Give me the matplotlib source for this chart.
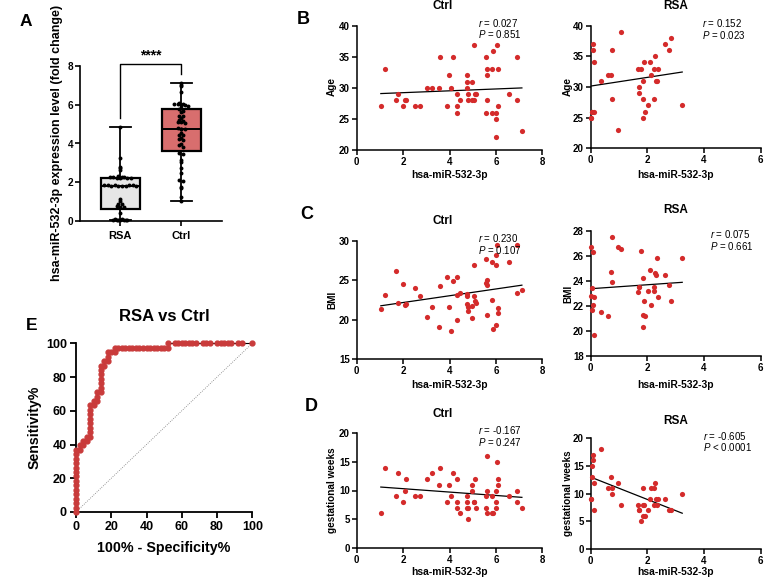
import numpy as np
import matplotlib
matplotlib.use("Agg")
import matplotlib.pyplot as plt

plt.rcParams['font.family'] = ['Liberation Sans', 'DejaVu Sans']
plt.rcParams['font.weight'] = 'bold'
plt.rcParams['mathtext.fontset'] = 'custom'
plt.rcParams['mathtext.it'] = 'Liberation Sans:italic:normal'
plt.rcParams['mathtext.rm'] = 'Liberation Sans:normal'
plt.rcParams['mathtext.bf'] = 'Liberation Sans:bold'

RED = '#d42b2b'
ROC_RED = '#c93b3b'

# ---- A: expression level (fold change)
a_rsa = [4.83, 3.23, 2.80, 2.75, 2.62, 2.30, 2.27, 2.25, 2.24, 2.22, 2.26, 2.23, 2.28, 2.21,
         1.86, 1.84, 1.83, 1.85, 1.80, 1.82, 1.81, 1.86, 1.84, 1.79, 1.12, 1.05, 0.90, 0.88,
         0.79, 0.74, 0.74, 0.40, 0.08, 0.06, 0.07, 0.05, 0.06, 0.08, 0.05, 0.07, 0.04]
a_ctrl = [7.14, 7.02, 6.95, 6.65, 6.08, 6.05, 6.04, 6.02, 6.00, 5.99, 5.92, 5.84, 5.78, 5.66,
          5.64, 5.44, 5.40, 5.34, 5.22, 5.16, 5.13, 5.10, 5.06, 4.78, 4.76, 4.75, 4.73, 4.53,
          4.45, 4.42, 4.27, 4.21, 4.16, 3.98, 3.92, 3.84, 3.50, 3.47, 3.15, 3.05, 2.72, 2.46,
          2.12, 2.08, 1.77, 1.72, 1.26, 1.03]
groups = ['RSA', 'Ctrl']
# whisker low, Q1, median, Q3, whisker high
box_rsa = [0.04, 0.60, 1.82, 2.24, 4.84]
box_ctrl = [1.03, 3.61, 4.76, 5.78, 7.14]

# ---- B-D: correlations with hsa-miR-532-3p
ctrl_x = [1.04, 1.21, 1.70, 1.79, 2.00, 2.07, 2.14, 2.50, 2.74, 3.04,
          3.23, 3.54, 3.59, 3.90, 3.96, 4.07, 4.16, 4.31, 4.33, 4.34,
          4.47, 4.74, 4.76, 4.77, 4.79, 4.79, 4.95, 4.97, 5.06, 5.07,
          5.10, 5.13, 5.56, 5.57, 5.60, 5.60, 5.61, 5.83, 5.84, 5.86,
          6.00, 6.01, 6.02, 6.03, 6.10, 6.11, 6.56, 6.91, 6.93, 7.12]
ctrl_age = [27, 33, 28, 29, 27, 28, 28, 27, 27, 30,
            30, 30, 35, 27, 32, 30, 35, 29, 27, 26,
            28, 32, 31, 30, 29, 28, 28, 31, 28, 37,
            29, 29, 35, 26, 33, 28, 32, 26, 33, 36,
            26, 25, 22, 37, 33, 27, 29, 35, 28, 23]
ctrl_bmi = [21.3, 23.15, 26.1, 22.05, 24.5, 21.8, 21.95, 23.95, 23.0, 20.3,
            21.6, 19.0, 24.25, 25.4, 21.65, 18.5, 24.95, 25.45, 23.1, 19.9,
            23.4, 23.2, 23.0, 22.0, 21.65, 21.05, 21.75, 20.2, 23.0, 26.9,
            22.35, 22.15, 27.65, 24.65, 25.0, 24.35, 20.6, 22.5, 27.3, 18.75,
            28.2, 26.9, 19.25, 29.45, 21.45, 20.8, 27.25, 29.4, 23.35, 23.7]
ctrl_gw = [6, 14, 9, 13, 8, 10, 12, 9, 9, 12,
           13, 11, 14, 8, 11, 9, 13, 8, 7, 12,
           6, 9, 8, 7, 7, 5, 11, 10, 8, 8,
           12, 7, 9, 7, 16, 10, 6, 6, 9, 6,
           8, 7, 10, 15, 12, 11, 9, 10, 8, 7]

rsa_x = [0.01, 0.02, 0.04, 0.05, 0.08, 0.09, 0.11, 0.12, 0.35, 0.61,
         0.70, 0.74, 0.76, 0.97, 1.08, 1.67, 1.69, 1.72, 1.76, 1.84,
         1.85, 1.86, 1.89, 1.91, 2.03, 2.08, 2.12, 2.23, 2.25, 2.28,
         2.30, 2.35, 2.36, 2.62, 2.75, 2.82, 3.23]
rsa_age = [25, 25, 26, 26, 37, 36, 34, 26, 31, 32,
           32, 36, 28, 23, 39, 33, 29, 30, 33, 31,
           28, 25, 34, 26, 27, 34, 32, 28, 33, 35,
           31, 31, 33, 37, 36, 38, 27]
rsa_bmi = [26.7, 22.8, 21.7, 23.4, 22.1, 26.3, 22.7, 19.65, 21.5, 21.2,
           24.7, 27.5, 23.9, 26.7, 26.5, 23.1, 23.5, 23.5, 26.4, 24.2,
           21.3, 20.3, 22.4, 21.2, 23.2, 24.9, 22.1, 23.5, 23.2, 24.6,
           24.5, 25.8, 22.7, 24.5, 23.7, 22.4, 25.8]
rsa_gw = [9, 9, 15, 13, 17, 16, 12, 7, 18, 11,
          13, 11, 10, 12, 8, 8, 7, 7, 5, 8,
          11, 6, 8, 6, 7, 9, 11, 11, 8, 12,
          9, 8, 9, 9, 7, 7, 10]

# regression lines (intercept, slope) and stats text
fit_age = [(28.92, 0.15), (30.15, 0.71)]
fit_bmi = [(21.30, 0.43), (23.37, 0.158)]
fit_gw = [(10.91, -0.296), (12.99, -2.02)]
r_age = [('0.027', '= 0.851'), ('0.152', '= 0.023')]
r_bmi = [('0.230', '= 0.107'), ('0.075', '= 0.661')]
r_gw = [('-0.167', '= 0.247'), ('-0.605', '< 0.0001')]

# ---- E: ROC curve
roc_fpr = ([0] * 15 + [2, 2, 4, 4, 6, 6] + [8] * 8 + [10, 10, 12, 12, 12] + [14] * 7 +
           [16, 16, 18, 18, 18, 20, 22, 22] +
           [24, 26, 28, 30, 32, 34, 36, 38, 40, 42, 44, 46, 48, 50, 52] +
           [52, 56, 58, 60, 62, 64, 66, 68, 72, 74, 76, 80, 82, 84, 86, 88, 92, 94, 100])
roc_tpr = ([0, 2.6, 5.3, 7.9, 10.5, 13.2, 15.8, 18.4, 21.1, 23.7, 26.3, 28.9, 31.6, 34.2, 36.8,
            36.8, 39.5, 39.5, 42.1, 42.1, 44.7,
            44.7, 47.4, 50.0, 52.6, 55.3, 57.9, 60.5, 63.2,
            63.2, 65.8, 65.8, 68.4, 71.1,
            71.1, 73.7, 76.3, 78.9, 81.6, 84.2, 86.8,
            86.8, 89.5, 89.5, 92.1, 94.7, 94.7, 94.7, 97.4] +
           [97.4] * 15 + [100] * 19)

W, H = 764, 579
fig = plt.figure(figsize=(W / 100, H / 100), dpi=100)


def add_ax(l, t, r, b):
    return fig.add_axes([l / W, 1 - b / H, (r - l) / W, (b - t) / H])


def ftext(x, y, s, **kw):
    fig.text(x / W, 1 - y / H, s, **kw)


def style(ax, lw=1.1, size=7, tl=3.5, pad=1.5):
    for s in ['top', 'right']:
        ax.spines[s].set_visible(False)
    for s in ['left', 'bottom']:
        ax.spines[s].set_linewidth(lw)
    ax.tick_params(direction='out', length=tl, width=lw, labelsize=size, pad=pad)


def swarm(vals, center, row=0.13, step=0.058):
    vals = np.asarray(vals)
    xs = np.zeros(len(vals))
    rows = np.round(vals / row)
    for r in np.unique(rows):
        idx = np.where(rows == r)[0]
        n = len(idx)
        xs[idx] = center + (np.arange(n) - (n - 1) / 2) * step
    return xs


# ---------------- panel A
axA = add_ax(80, 66, 222, 221)
stats = []
for name, b in zip(groups, [box_rsa, box_ctrl]):
    stats.append(dict(label=name, whislo=b[0], q1=b[1], med=b[2], q3=b[3], whishi=b[4]))
bp = axA.bxp(stats, positions=[1, 2], widths=0.64, capwidths=0.34, showfliers=False,
             patch_artist=True,
             boxprops=dict(linewidth=1.6, edgecolor='black'),
             medianprops=dict(linewidth=1.4, color='black'),
             whiskerprops=dict(linewidth=1.3, color='black'),
             capprops=dict(linewidth=1.3, color='black'))
for patch, fc in zip(bp['boxes'], ['#e6e6e6', '#d86e6e']):
    patch.set_facecolor(fc)
for pos, vals in zip([1, 2], [a_rsa, a_ctrl]):
    axA.scatter(swarm(vals, pos), vals, s=8, color='black', zorder=4, clip_on=False, linewidths=0)
axA.plot([1, 1, 2, 2], [5.3, 8.08, 8.08, 7.6], color='black', lw=1.0, clip_on=False)
axA.text(1.5, 8.55, '****', ha='center', va='center', fontsize=10, fontweight='bold')
axA.set_xlim(0.34, 2.67)
axA.set_ylim(0, 8)
axA.set_yticks([0, 2, 4, 6, 8])
axA.set_xticks([1, 2])
axA.set_xticklabels(groups)
style(axA, lw=1.2, size=7.2)
axA.tick_params(axis='x', labelsize=8, pad=4)
ftext(57.5, 143, 'hsa-miR-532-3p expression level (fold change)', rotation=90,
      ha='center', va='center', fontsize=9)
ftext(26, 22, 'A', ha='center', va='center', fontsize=12.5)

# ---------------- panels B-D
col_px = [(356.7, 542.3), (590.7, 760.7)]
rows = [
    dict(letter='B', lpos=(303, 20), ylab='Age', tb=[(26, 149.7), (25.7, 148.3)],
         ylim=(20, 40), yt=[20, 25, 30, 35, 40], ys=[ctrl_age, rsa_age], fits=fit_age,
         rp=r_age, title_y=[6, 6], xlab_y=175, ylab_y=[87, 86],
         rtext_y=[(23, 34.5), (23.3, 34.8)], rtext_x=[478.3, 702.3]),
    dict(letter='C', lpos=(307, 214), ylab='BMI', tb=[(240.7, 359), (230.7, 356)],
         ylim=None, yt=None, ys=[ctrl_bmi, rsa_bmi], fits=fit_bmi,
         rp=r_bmi, title_y=[221, 210], xlab_y=385, ylab_y=[300, 294],
         rtext_y=[(238, 250), (234, 246)], rtext_x=[478.3, 710]),
    dict(letter='D', lpos=(311.7, 406.7), ylab='gestational weeks', tb=[(433.3, 547.7), (438.3, 549)],
         ylim=(0, 20), yt=[0, 5, 10, 15, 20], ys=[ctrl_gw, rsa_gw], fits=fit_gw,
         rp=r_gw, title_y=[414, 421], xlab_y=572, ylab_y=[490, 493],
         rtext_y=[(430, 441.5), (435.5, 447)], rtext_x=[478.3, 702.7]),
]
bmi_lims = [((15, 30), [15, 20, 25, 30]), ((18, 28), [18, 20, 22, 24, 26, 28])]
xs_all = [ctrl_x, rsa_x]
xlims = [(0, 8, [0, 2, 4, 6, 8]), (0, 6, [0, 2, 4, 6])]
titles = ['Ctrl', 'RSA']
title_x = [443, 676]
ylab_x = [332, 568]

for row in rows:
    for j in range(2):
        l, r = col_px[j]
        t, b = row['tb'][j]
        ax = add_ax(l, t, r, b)
        x = np.array(xs_all[j])
        y = np.array(row['ys'][j])
        ax.scatter(x, y, s=14, color=RED, linewidths=0, zorder=3, clip_on=False)
        fx = np.array([x.min(), x.max()])
        a0, a1 = row['fits'][j]
        ax.plot(fx, a0 + a1 * fx, color='black', lw=0.9, zorder=2)
        ax.set_xlim(xlims[j][0], xlims[j][1])
        ax.set_xticks(xlims[j][2])
        if row['ylim'] is None:
            ylim, yt = bmi_lims[j]
        else:
            ylim, yt = row['ylim'], row['yt']
        ax.set_ylim(*ylim)
        ax.set_yticks(yt)
        style(ax)
        ftext(title_x[j], row['title_y'][j], titles[j], ha='center', va='center', fontsize=8.5)
        ftext((l + r) / 2, row['xlab_y'], 'hsa-miR-532-3p', ha='center', va='center', fontsize=7.4)
        ftext(ylab_x[j], row['ylab_y'][j], row['ylab'], rotation=90, ha='center', va='center',
              fontsize=7.2)
        rv, pv = row['rp'][j]
        ry, py = row['rtext_y'][j]
        ftext(row['rtext_x'][j], ry, '$\\it{r}$ = ' + rv, ha='left', va='center', fontsize=7,
              fontweight='normal')
        ftext(row['rtext_x'][j], py, '$\\it{P}$ ' + pv, ha='left', va='center', fontsize=7,
              fontweight='normal')
    ftext(row['lpos'][0], row['lpos'][1], row['letter'], ha='center', va='center', fontsize=13)

# ---------------- panel E
axE = add_ax(76, 343.3, 252.3, 512)
axE.plot([0, 100], [0, 100], color='#777777', lw=0.6, ls=':', zorder=1)
axE.plot(roc_fpr, roc_tpr, color='black', lw=0.8, zorder=2, clip_on=False)
axE.plot(roc_fpr, roc_tpr, 'o', ms=3.5, color=ROC_RED, mec=ROC_RED, zorder=3, clip_on=False)
axE.set_xlim(0, 100)
axE.set_ylim(0, 100)
axE.set_xticks(range(0, 101, 20))
axE.set_yticks(range(0, 101, 20))
style(axE, lw=1.3, size=9, tl=4.5, pad=2)
ftext(164, 316.7, 'RSA vs Ctrl', ha='center', va='center', fontsize=12)
ftext(164, 548, '100% - Specificity%', ha='center', va='center', fontsize=10.3)
ftext(35, 427, 'Sensitivity%', rotation=90, ha='center', va='center', fontsize=10.2)
ftext(32, 326, 'E', ha='center', va='center', fontsize=12.5)

fig.savefig('out.png', dpi=100)
